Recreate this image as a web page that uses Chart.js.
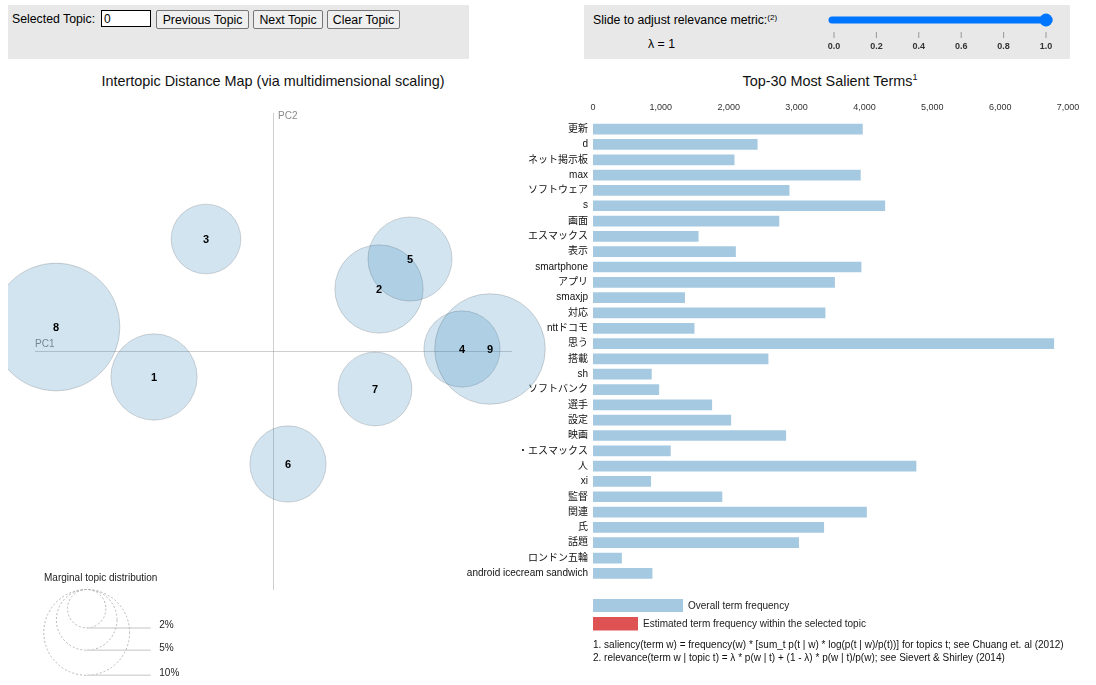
<!DOCTYPE html>
<html>
<head>
<meta charset="utf-8">
<title>LDAvis</title>
<script src="https://cdn.jsdelivr.net/npm/chart.js@4.4.1/dist/chart.umd.min.js"></script>
<style>
  body {
    margin: 0;
    width: 1096px;
    height: 685px;
    position: relative;
    overflow: hidden;
    background: #fff;
    font-family: "Liberation Sans", Arial, "Noto Sans CJK JP", sans-serif;
    color: #000;
  }
  .box { position: absolute; background: #e8e8e8; }
  .abs { position: absolute; white-space: nowrap; }
  button {
    position: absolute;
    top: 10px;
    height: 19px;
    padding: 0;
    font: 12.3px "Liberation Sans", Arial, sans-serif;
    background: #efefef;
    border: 1px solid #767676;
    border-radius: 2px;
    color: #000;
  }
  .title { position: absolute; top: 72px; font-size: 14.4px; line-height: 18px; text-align: center; white-space: nowrap; color: #111; }
  .title sup { font-size: 9px; vertical-align: 6px; line-height: 0; }
  canvas { position: absolute; }
  svg { position: absolute; left: 0; top: 0; }
</style>
</head>
<body>

<div class="box" style="left:8px;top:5px;width:461px;height:54px"></div>
<div class="box" style="left:584px;top:5px;width:486px;height:54px"></div>

<span class="abs" style="left:12px;top:12px;font-size:12.3px">Selected Topic:</span>
<input value="0" style="position:absolute;left:101px;top:10px;width:50px;height:17px;box-sizing:border-box;border:1px solid #000;padding:0 2px;font:12px 'Liberation Sans',Arial,sans-serif;">
<button style="left:156px;width:93px">Previous Topic</button>
<button style="left:253px;width:70px">Next Topic</button>
<button style="left:327px;width:73px">Clear Topic</button>

<span class="abs" style="left:593px;top:13px;font-size:12.3px">Slide to adjust relevance metric:<span style="font-size:8px;vertical-align:4px">(2)</span></span>
<span class="abs" style="left:648px;top:37px;font-size:12.3px">λ = 1</span>

<div class="title" style="left:23px;width:500px">Intertopic Distance Map (via multidimensional scaling)</div>
<div class="title" style="left:630px;width:400px">Top-30 Most Salient Terms<sup>1</sup></div>

<canvas id="barChart" width="638" height="502" style="left:458px;top:90px"></canvas>
<canvas id="mdsChart" width="560" height="490" style="left:8px;top:100px"></canvas>

<svg id="overlay" width="1096" height="685"></svg>

<script>
// topics (MDS coordinates, marginal distribution in %)
const topicIds = [1, 2, 3, 4, 5, 6, 7, 8, 9];
const topicX = [-0.119, 0.106, -0.067, 0.189, 0.137, 0.015, 0.102, -0.217, 0.217];
const topicY = [-0.026, 0.062, 0.112, 0.002, 0.092, -0.113, -0.038, 0.024, 0.002];
const topicFreq = [10.1, 10.6, 6.6, 7.9, 9.6, 7.9, 7.4, 22.2, 16.6];

// top-30 salient terms
const terms = ["更新", "d", "ネット掲示板", "max", "ソフトウェア", "s", "画面", "エスマックス", "表示", "smartphone",
  "アプリ", "smaxjp", "対応", "nttドコモ", "思う", "搭載", "sh", "ソフトバンク", "選手", "設定",
  "映画", "・エスマックス", "人", "xi", "監督", "関連", "氏", "話題", "ロンドン五輪", "android icecream sandwich"];
const termFreq = [3990, 2440, 2100, 3960, 2910, 4320, 2760, 1570, 2120, 3970,
  3580, 1370, 3440, 1510, 6810, 2600, 880, 990, 1770, 2050,
  2860, 1160, 4780, 870, 1920, 4050, 3420, 3050, 440, 890];

const legendSizes = [2, 5, 10];
const sliderTicks = [0, 0.2, 0.4, 0.6, 0.8, 1.0];
const lambdaValue = 1;

const FONT = "'Liberation Sans', Arial, 'Noto Sans CJK JP', sans-serif";

// circle radius from marginal topic percentage
function rScale(pct) {
  return 13.57 * Math.sqrt(pct);
}

// PC1 / PC2 axis lines behind the circles
const pcAxes = {
  id: "pcAxes",
  beforeDatasetsDraw(chart) {
    const { ctx, scales } = chart;
    const x0 = scales.x.getPixelForValue(0);
    const y0 = scales.y.getPixelForValue(0);
    ctx.save();
    ctx.strokeStyle = "rgba(128,128,128,0.38)";
    ctx.lineWidth = 1;
    ctx.beginPath();
    ctx.moveTo(scales.x.getPixelForValue(-0.238), y0 + 0.5);
    ctx.lineTo(scales.x.getPixelForValue(0.239), y0 + 0.5);
    ctx.moveTo(x0 + 0.5, scales.y.getPixelForValue(0.238));
    ctx.lineTo(x0 + 0.5, scales.y.getPixelForValue(-0.239));
    ctx.stroke();
    ctx.fillStyle = "#8a8a8a";
    ctx.font = "10px " + FONT;
    ctx.textBaseline = "alphabetic";
    ctx.fillText("PC1", scales.x.getPixelForValue(-0.238), y0 - 4);
    ctx.fillText("PC2", x0 + 5, scales.y.getPixelForValue(0.238) + 6);
    ctx.restore();
  }
};

const topicLabels = {
  id: "topicLabels",
  afterDatasetsDraw(chart) {
    const { ctx } = chart;
    const meta = chart.getDatasetMeta(0);
    ctx.save();
    ctx.fillStyle = "#000";
    ctx.font = "bold 11px " + FONT;
    ctx.textAlign = "center";
    ctx.textBaseline = "middle";
    meta.data.forEach((el, i) => {
      ctx.fillText(String(topicIds[i]), el.x, el.y + 1);
    });
    ctx.restore();
  }
};

new Chart(document.getElementById("mdsChart"), {
  type: "bubble",
  data: {
    datasets: [{
      data: topicIds.map((id, i) => ({ x: topicX[i], y: topicY[i], r: rScale(topicFreq[i]) })),
      backgroundColor: "rgba(31,119,180,0.2)",
      borderColor: "rgba(0,0,0,0.15)",
      borderWidth: 1,
      clip: { left: 0, top: false, right: false, bottom: false }
    }]
  },
  options: {
    responsive: false,
    animation: false,
    events: [],
    layout: { padding: 0, autoPadding: false },
    plugins: { legend: { display: false }, tooltip: { enabled: false } },
    scales: {
      x: { display: false, min: -0.265, max: 0.295 },
      y: { display: false, min: -0.239, max: 0.251 }
    }
  },
  plugins: [pcAxes, topicLabels]
});

new Chart(document.getElementById("barChart"), {
  type: "bar",
  data: {
    labels: terms,
    datasets: [{
      data: termFreq,
      backgroundColor: "rgba(31,119,180,0.4)",
      borderColor: "rgba(255,255,255,0.45)",
      borderWidth: 1,
      barPercentage: 0.83,
      categoryPercentage: 1
    }]
  },
  options: {
    indexAxis: "y",
    responsive: false,
    animation: false,
    events: [],
    layout: { padding: { left: 0, right: 28, top: 0, bottom: 4.5 } },
    plugins: { legend: { display: false }, tooltip: { enabled: false } },
    scales: {
      x: {
        position: "top",
        min: 0,
        max: 7000,
        grid: { display: false, drawTicks: false },
        border: { display: false },
        ticks: {
          stepSize: 1000,
          padding: 9,
          color: "#333",
          font: { size: 9, family: FONT },
          callback: (v) => Number(v).toLocaleString("en-US")
        },
        afterFit(scale) { scale.height = 31.5; }
      },
      y: {
        grid: { display: false, drawTicks: false },
        border: { display: false },
        ticks: { padding: 5, color: "#111", font: { size: 10, family: FONT }, autoSkip: false },
        afterFit(scale) { scale.width = 135; }
      }
    }
  }
});

// slider, legends and footnotes
const NS = "http://www.w3.org/2000/svg";
const svg = document.getElementById("overlay");
function el(tag, attrs, text) {
  const e = document.createElementNS(NS, tag);
  for (const k in attrs) e.setAttribute(k, attrs[k]);
  if (text !== undefined) e.textContent = text;
  svg.appendChild(e);
  return e;
}

// relevance slider
const sx0 = 834, sx1 = 1046;
const sliderX = (v) => sx0 + (sx1 - sx0) * v;
el("rect", { x: 828.5, y: 16.5, width: 224, height: 7, rx: 3.5, fill: "#0075ff" });
el("circle", { cx: sliderX(lambdaValue), cy: 20, r: 6.5, fill: "#0075ff" });
sliderTicks.forEach((t) => {
  const x = sliderX(t);
  el("line", { x1: x, x2: x, y1: 32, y2: 38, stroke: "#999", "stroke-width": 1 });
  el("text", { x: x, y: 49, "text-anchor": "middle", "font-size": 9, "font-weight": "bold", "font-family": FONT, fill: "#333" }, t.toFixed(1));
});

// marginal topic distribution legend
el("text", { x: 44, y: 581, "font-size": 10, "font-family": FONT, fill: "#222" }, "Marginal topic distribution");
const lcx = 86.7, ltop = 589.5;
legendSizes.forEach((p) => {
  const r = rScale(p);
  el("circle", { cx: lcx, cy: ltop + r, r: r, fill: "none", stroke: "#b5b5b5", "stroke-dasharray": "2 2", "stroke-width": 1 });
  const yb = ltop + 2 * r;
  el("line", { x1: lcx, x2: 150.7, y1: yb, y2: yb, stroke: "#d8d8d8", "stroke-width": 1.5 });
  el("text", { x: 159.3, y: yb + 0.5, "font-size": 10, "font-family": FONT, fill: "#222" }, p + "%");
});

// bar legend
el("rect", { x: 593, y: 599, width: 90, height: 13, fill: "rgba(31,119,180,0.4)" });
el("text", { x: 688, y: 608.5, "font-size": 10, "font-family": FONT, fill: "#222" }, "Overall term frequency");
el("rect", { x: 593, y: 617, width: 45, height: 13.5, fill: "rgba(214,39,40,0.8)" });
el("text", { x: 643, y: 627, "font-size": 10, "font-family": FONT, fill: "#222" }, "Estimated term frequency within the selected topic");

// footnotes
el("text", { x: 593, y: 647.5, "font-size": 10, "font-family": FONT, fill: "#111" },
  "1. saliency(term w) = frequency(w) * [sum_t p(t | w) * log(p(t | w)/p(t))] for topics t; see Chuang et. al (2012)");
el("text", { x: 593, y: 661, "font-size": 10, "font-family": FONT, fill: "#111" },
  "2. relevance(term w | topic t) = λ * p(w | t) + (1 - λ) * p(w | t)/p(w); see Sievert & Shirley (2014)");
</script>
</body>
</html>
